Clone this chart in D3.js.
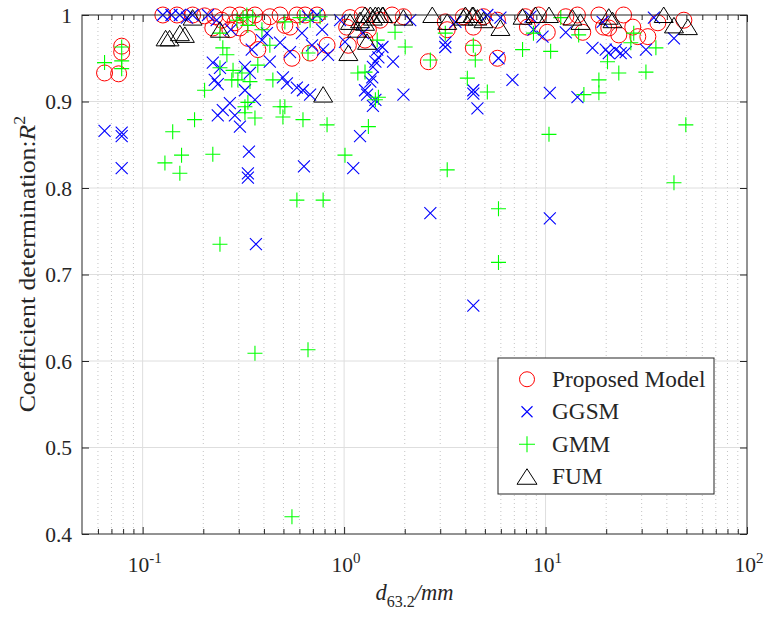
<!DOCTYPE html>
<html><head><meta charset="utf-8">
<script src="https://cdn.jsdelivr.net/npm/d3@7"></script>
<style>
body{margin:0;background:#fff;}
svg{display:block;}
text{font-family:"Liberation Serif","Times New Roman",serif;fill:#262626;}
</style>
</head><body>
<svg id="chart" width="766" height="621"></svg>
<script>
// ---------- data ----------
const proposedD = [0.0647,0.0760,0.0787,0.0787,0.126,0.148,0.177,0.203,0.223,0.247,0.271,0.287,0.304,0.333,0.333,0.361,0.373,0.395,0.428,0.481,0.508,0.539,0.551,0.583,0.640,0.678,0.734,0.823,1.03,1.05,1.07,1.23,1.27,1.32,1.51,1.73,1.97,2.62,3.18,3.25,3.91,4.38,4.38,4.92,5.77,5.77,7.95,8.13,9.23,10.2,12.6,14.4,15.3,18.4,19.4,20.6,23.1,24.4,27.1,28.7,32.2,36.1,48.6,0.271,0.228,0.304];
const proposedR2 = [0.933,0.932,0.957,0.964,1.000,1.000,1.000,0.999,0.985,0.994,1.000,0.991,1.000,0.997,0.973,1.000,0.960,0.992,0.998,1.000,0.988,0.986,0.950,1.000,1.000,0.956,1.000,0.965,0.986,0.965,0.997,1.000,0.971,0.983,0.994,1.000,0.998,0.946,0.992,0.983,0.998,0.986,0.962,0.998,0.950,0.994,0.998,0.986,1.000,0.980,0.998,1.000,0.980,1.000,0.986,0.985,0.977,1.000,0.986,0.975,0.975,0.991,0.994,0.983,0.998,0.985];

const ggsmD = [0.0647,0.0787,0.0787,0.0787,0.126,0.139,0.153,0.177,0.166,0.211,0.233,0.223,0.242,0.228,0.236,0.271,0.250,0.236,0.287,0.304,0.322,0.341,0.361,0.322,0.348,0.337,0.333,0.333,0.365,0.428,0.414,0.481,0.497,0.520,0.583,0.625,0.678,0.539,0.618,0.693,0.787,0.778,0.662,0.734,0.632,0.832,1.11,1.20,1.01,1.24,1.46,1.48,1.43,1.39,1.38,1.35,1.27,1.30,1.43,1.39,1.75,1.97,3.18,3.18,4.38,4.38,4.59,2.68,4.38,5.84,6.85,10.5,14.4,9.66,8.71,12.6,17.1,19.9,20.6,22.3,23.6,25.0,31.5,43.4,19.2,8.42,5.97,5.14,34.5,10.5,1.55,0.274,0.391,0.955,2.13,3.57];
const ggsmR2 = [0.866,0.864,0.860,0.823,1.000,1.000,1.000,1.000,0.997,1.000,0.994,0.945,0.939,0.925,0.920,0.898,0.890,0.884,0.884,0.871,0.940,0.933,0.902,0.913,0.960,0.842,0.817,0.812,0.735,0.946,0.979,0.968,0.928,0.921,0.916,0.913,0.908,0.957,0.979,0.965,0.960,0.983,0.998,1.000,0.825,0.954,0.823,0.860,0.969,0.979,0.960,0.951,0.946,0.940,0.928,0.923,0.913,0.908,0.902,0.895,0.946,0.908,0.968,0.963,0.913,0.909,0.892,0.771,0.664,0.950,0.925,0.910,0.905,0.975,0.983,0.980,0.962,0.960,0.956,0.960,0.956,0.957,0.960,0.973,0.992,0.998,0.997,1.000,0.997,0.765,0.963,0.983,0.971,0.994,0.994,0.992];

const gmmD = [0.0647,0.0787,0.0787,0.0787,0.141,0.129,0.153,0.156,0.181,0.203,0.223,0.242,0.250,0.262,0.281,0.277,0.297,0.341,0.373,0.311,0.333,0.322,0.322,0.361,0.242,0.361,0.443,0.481,0.508,0.497,0.625,0.823,0.583,0.787,0.662,0.551,0.662,0.315,0.352,0.329,0.242,0.428,0.678,1.01,1.17,1.27,1.43,1.32,1.48,1.46,1.79,2.01,2.68,3.18,3.25,4.09,5.14,4.48,4.38,5.84,5.84,7.69,10.6,10.4,8.71,11.9,14.6,15.5,18.4,18.4,20.3,23.1,31.5,35.3,49.7,43.4,26.5,27.4,0.391,0.508,0.604,0.760,0.294,0.333];
const gmmR2 = [0.945,0.963,0.947,0.938,0.865,0.829,0.817,0.838,0.879,0.913,0.839,0.939,0.962,0.954,0.936,0.925,0.925,0.923,0.942,0.933,0.899,0.894,0.887,0.881,0.735,0.609,0.925,0.894,0.894,0.882,0.879,0.873,0.786,0.786,0.613,0.420,0.956,0.997,0.998,1.000,0.979,0.965,0.994,0.838,0.933,0.934,0.902,0.871,0.905,0.971,0.980,0.963,0.948,0.979,0.821,0.927,0.911,0.948,0.965,0.776,0.714,0.960,0.958,0.862,0.979,0.997,0.977,0.908,0.925,0.910,0.946,0.933,0.934,0.962,0.873,0.806,0.968,0.979,0.983,0.992,0.997,0.998,0.994,0.988];

const fumD = [0.130,0.153,0.162,0.177,0.242,0.787,1.05,1.07,1.16,1.20,1.27,1.30,1.27,1.35,1.39,1.43,1.48,1.55,1.56,1.97,2.74,3.25,3.91,4.00,4.33,4.38,4.59,4.92,5.97,7.69,8.91,10.4,13.6,14.9,20.6,21.5,38.6,43.4,50.9,0.136];
const fumR2 = [0.973,0.979,0.977,0.997,0.983,0.908,0.956,0.992,0.983,0.994,0.991,0.969,1.000,1.000,0.997,1.000,1.000,1.000,1.000,0.997,1.000,0.992,0.997,1.000,1.000,1.000,0.997,0.994,0.985,0.998,1.000,1.000,0.997,0.992,0.998,0.994,1.000,0.988,0.986,0.973];

const seriesNames = ["Proposed Model","GGSM","GMM","FUM"];
const xTickValues = [0.1,1,10,100];
const xTickExponents = ["-1","0","1","2"];
const yTickValues = [0.4,0.5,0.6,0.7,0.8,0.9,1];
const yTickLabels = ["0.4","0.5","0.6","0.7","0.8","0.9","1"];
const xDomain = [0.05,100];
const yDomain = [0.4,1];

// ---------- layout ----------
const L = 82, R = 747, T = 15, B = 534;
const svg = d3.select("#chart");
const x = d3.scaleLog().domain(xDomain).range([L,R]);
const y = d3.scaleLinear().domain(yDomain).range([B,T]);

// minor x positions
const minorX = [];
[0.01,0.1,1,10].forEach(dec => { for (let k=2;k<=9;k++){ const v=dec*k; if (v>xDomain[0] && v<xDomain[1]) minorX.push(v);} });

// grid
const grid = svg.append("g");
grid.selectAll("line.mx").data(minorX).join("line")
  .attr("x1",d=>x(d)).attr("x2",d=>x(d)).attr("y1",T).attr("y2",B)
  .attr("stroke","#c4c4c4").attr("stroke-width",1).attr("stroke-dasharray","1,3");
grid.selectAll("line.gx").data(xTickValues.filter(v=>v<xDomain[1])).join("line")
  .attr("x1",d=>x(d)).attr("x2",d=>x(d)).attr("y1",T).attr("y2",B)
  .attr("stroke","#dedede").attr("stroke-width",1);
grid.selectAll("line.gy").data(yTickValues.filter(v=>v<yDomain[1]&&v>yDomain[0])).join("line")
  .attr("x1",L).attr("x2",R).attr("y1",d=>y(d)).attr("y2",d=>y(d))
  .attr("stroke","#dedede").attr("stroke-width",1);

// axes (ticks inward on all four sides)
const axisColor = "#262626";
function styleAxis(g){ g.select(".domain").remove(); g.selectAll("line").attr("stroke",axisColor); g.selectAll("text").remove(); }
svg.append("g").attr("transform",`translate(0,${B})`).call(d3.axisBottom(x).tickValues(xTickValues).tickSize(-7)).call(styleAxis);
svg.append("g").attr("transform",`translate(0,${B})`).call(d3.axisBottom(x).tickValues(minorX).tickSize(-5)).call(styleAxis);
svg.append("g").attr("transform",`translate(0,${T})`).call(d3.axisTop(x).tickValues(xTickValues).tickSize(-7)).call(styleAxis);
svg.append("g").attr("transform",`translate(0,${T})`).call(d3.axisTop(x).tickValues(minorX).tickSize(-5)).call(styleAxis);
svg.append("g").attr("transform",`translate(${L},0)`).call(d3.axisLeft(y).tickValues(yTickValues).tickSize(-7)).call(styleAxis);
svg.append("g").attr("transform",`translate(${R},0)`).call(d3.axisRight(y).tickValues(yTickValues).tickSize(-7)).call(styleAxis);

// markers
const markers = svg.append("g");
function drawSeries(xs, ys, kind){
  const data = xs.map((d,i)=>[d,ys[i]]);
  const g = markers.append("g");
  if (kind==="circle"){
    g.selectAll("circle").data(data).join("circle")
      .attr("cx",d=>x(d[0])).attr("cy",d=>y(d[1])).attr("r",8)
      .attr("fill","none").attr("stroke","#ff0000").attr("stroke-width",1);
  } else if (kind==="x"){
    const s=6;
    g.selectAll("path").data(data).join("path")
      .attr("d",d=>{const cx=x(d[0]),cy=y(d[1]);return `M${cx-s},${cy-s}L${cx+s},${cy+s}M${cx-s},${cy+s}L${cx+s},${cy-s}`;})
      .attr("fill","none").attr("stroke","#0000ff").attr("stroke-width",1.1);
  } else if (kind==="plus"){
    const s=7.5;
    g.selectAll("path").data(data).join("path")
      .attr("d",d=>{const cx=x(d[0]),cy=y(d[1]);return `M${cx-s},${cy}L${cx+s},${cy}M${cx},${cy-s}L${cx},${cy+s}`;})
      .attr("fill","none").attr("stroke","#00ff00").attr("stroke-width",1.1);
  } else {
    g.selectAll("path").data(data).join("path")
      .attr("d",d=>{const cx=x(d[0]),cy=y(d[1]);return `M${cx},${cy-8}L${cx+9.5},${cy+7.5}L${cx-9.5},${cy+7.5}Z`;})
      .attr("fill","none").attr("stroke","#000").attr("stroke-width",1);
  }
}
drawSeries(proposedD, proposedR2, "circle");
drawSeries(ggsmD, ggsmR2, "x");
drawSeries(gmmD, gmmR2, "plus");
drawSeries(fumD, fumR2, "tri");

// box
svg.append("rect").attr("x",L).attr("y",T).attr("width",R-L).attr("height",B-T)
  .attr("fill","none").attr("stroke",axisColor).attr("stroke-width",1);

// tick labels
svg.append("g").selectAll("text").data(yTickValues).join("text")
  .attr("x",L-10).attr("y",d=>y(d)+7.5).attr("text-anchor","end")
  .attr("font-size",21.5).text((d,i)=>yTickLabels[i]);
const xl = svg.append("g").selectAll("text").data(xTickValues).join("text")
  .attr("x",d=>x(d)+2).attr("y",572).attr("text-anchor","middle").attr("font-size",21.5);
xl.append("tspan").text("10");
xl.append("tspan").attr("dy",-9).attr("font-size",15).text((d,i)=>xTickExponents[i]);

// axis titles
const xt = svg.append("text").attr("x",(L+R)/2).attr("y",600).attr("text-anchor","middle").attr("font-size",22.5);
xt.append("tspan").attr("font-style","italic").text("d");
xt.append("tspan").attr("dy",7).attr("font-size",16).text("63.2");
xt.append("tspan").attr("dy",-7).attr("font-style","italic").text("/mm");

const yt = svg.append("text").attr("transform",`translate(35,264) rotate(-90) scale(1.12,1)`)
  .attr("text-anchor","middle").attr("font-size",23);
yt.append("tspan").text("Coefficient determination:");
yt.append("tspan").attr("font-style","italic").text("R");
yt.append("tspan").attr("dy",-10).attr("font-size",16).text("2");

// legend
const lg = svg.append("g");
lg.append("rect").attr("x",498).attr("y",358).attr("width",216).attr("height",136)
  .attr("fill","#fff").attr("stroke",axisColor).attr("stroke-width",1);
const kinds = ["circle","x","plus","tri"];
const ly = d3.scaleBand().domain(seriesNames).range([363,493]);
seriesNames.forEach((name,i)=>{
  const cy = ly(name)+ly.bandwidth()/2, cx = 527;
  if (kinds[i]==="circle") lg.append("circle").attr("cx",cx).attr("cy",cy).attr("r",7.5).attr("fill","none").attr("stroke","#ff0000");
  else if (kinds[i]==="x") lg.append("path").attr("d",`M${cx-5.5},${cy-5.5}L${cx+5.5},${cy+5.5}M${cx-5.5},${cy+5.5}L${cx+5.5},${cy-5.5}`).attr("stroke","#0000ff").attr("stroke-width",1.1);
  else if (kinds[i]==="plus") lg.append("path").attr("d",`M${cx-8},${cy}L${cx+8},${cy}M${cx},${cy-8}L${cx},${cy+8}`).attr("stroke","#00ff00").attr("stroke-width",1.1);
  else lg.append("path").attr("d",`M${cx},${cy-8}L${cx+10},${cy+7.5}L${cx-10},${cy+7.5}Z`).attr("fill","none").attr("stroke","#000");
  lg.append("text").attr("x",552).attr("y",cy+7.5).attr("font-size",23.3).attr("fill","#000").text(name);
});
</script>
</body></html>
